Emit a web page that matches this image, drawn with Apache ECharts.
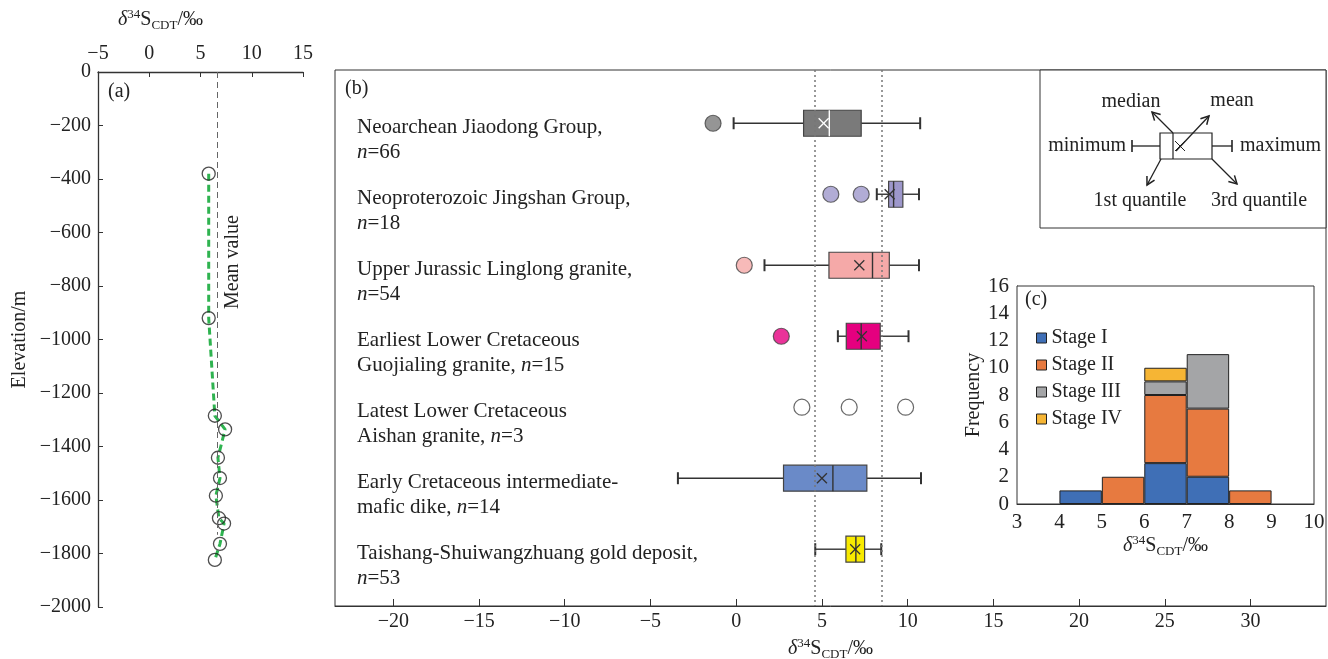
<!DOCTYPE html>
<html>
<head>
<meta charset="utf-8">
<script src="https://cdn.jsdelivr.net/npm/echarts@6/dist/echarts.min.js"></script>
<style>
html, body { margin: 0; padding: 0; background: #fff; }
#main { width: 1328px; height: 659px; }
</style>
</head>
<body>
<div id="main"></div>
<script>
// (a) sulfur isotope vs. elevation
var depthX = [5.8, 5.8, 6.4, 7.4, 6.7, 6.9, 6.5, 6.8, 7.3, 6.9, 6.4];
var depthY = [-380, -920, -1285, -1336, -1442, -1518, -1584, -1668, -1688, -1764, -1824];
var meanValue = 6.6;
var meanBottom = -1730;

// (b) box plots, one row per rock unit
var groupLine1 = ['Neoarchean Jiaodong Group,', 'Neoproterozoic Jingshan Group,', 'Upper Jurassic Linglong granite,',
    'Earliest Lower Cretaceous', 'Latest Lower Cretaceous', 'Early Cretaceous intermediate-', 'Taishang-Shuiwangzhuang gold deposit,'];
var groupLine2 = ['', '', '', 'Guojialing granite, ', 'Aishan granite, ', 'mafic dike, ', ''];
var groupN = ['66', '18', '54', '15', '3', '14', '53'];
var boxMin = [-0.15, 8.2, 1.65, 5.93, null, -3.4, 4.61];
var boxQ1 = [3.93, 8.89, 5.41, 6.42, null, 2.76, 6.4];
var boxMedian = [5.43, 9.18, 7.95, 7.29, null, 5.64, 6.98];
var boxQ3 = [7.29, 9.72, 8.93, 8.4, null, 7.62, 7.49];
var boxMax = [10.73, 10.66, 10.66, 10.05, null, 10.78, 8.46];
var boxMean = [5.1, 8.95, 7.18, 7.33, null, 5.0, 6.94];
var boxColors = ['#7a7a7a', '#9d97cb', '#f5a9a8', '#e5007f', '#ffffff', '#6a8ac8', '#f8ea00'];
var outlierX = [-1.35, 5.52, 7.29, 0.47, 2.63, 3.83, 6.59, 9.88];
var outlierRow = [0, 1, 1, 2, 3, 4, 4, 4];
var refLines = [4.6, 8.5];
var bTicks = [-20, -15, -10, -5, 0, 5, 10, 15, 20, 25, 30];

// (c) histogram, 1 permil bins from 3 to 10
var bins = ['3-4', '4-5', '5-6', '6-7', '7-8', '8-9', '9-10'];
var stageNames = ['Stage I', 'Stage II', 'Stage III', 'Stage IV'];
var stageCounts = [
    [0, 1, 0, 3, 2, 0, 0],
    [0, 0, 2, 5, 5, 1, 0],
    [0, 0, 0, 1, 4, 0, 0],
    [0, 0, 0, 1, 0, 0, 0]
];
var stageColors = ['#3f6fb6', '#e77a40', '#a4a5a7', '#f6b534'];

var FONT = '"Liberation Serif", "Times New Roman", serif';
var INK = '#222';

function minus(v) { return String(v).replace('-', '\u2212'); }

var isoRich = {
    d: { fontFamily: FONT, fontSize: 20, fontStyle: 'italic', color: INK, lineHeight: 24 },
    sup: { fontFamily: FONT, fontSize: 13, color: INK, verticalAlign: 'top', lineHeight: 24 },
    s: { fontFamily: FONT, fontSize: 20, color: INK, lineHeight: 24 },
    sub: { fontFamily: FONT, fontSize: 13, color: INK, verticalAlign: 'bottom', lineHeight: 20 }
};
var isoName = '{d|δ}{sup|34}{s|S}{sub|CDT}{s|/‰}';

var X_MIN = -23.4, X_MAX = 34.4;

function renderBox(params, api) {
    var i = params.dataIndex;
    var c = api.coord([X_MIN, i]);
    var children = [];
    var txt = '{t|' + groupLine1[i] + '}\n{t|' + groupLine2[i] + '}{i|n}{t|=' + groupN[i] + '}';
    children.push({
        type: 'text',
        x: c[0] + 22, y: c[1] - 8,
        style: {
            text: txt,
            verticalAlign: 'top',
            rich: {
                t: { fontFamily: FONT, fontSize: 21, fill: INK, lineHeight: 25 },
                i: { fontFamily: FONT, fontSize: 21, fontStyle: 'italic', fill: INK, lineHeight: 25 }
            }
        }
    });
    if (boxQ1[i] == null) return { type: 'group', children: children };
    var y = c[1];
    var h = 26, cap = 6;
    var xMin = api.coord([boxMin[i], i])[0];
    var xQ1 = api.coord([boxQ1[i], i])[0];
    var xMed = api.coord([boxMedian[i], i])[0];
    var xQ3 = api.coord([boxQ3[i], i])[0];
    var xMax = api.coord([boxMax[i], i])[0];
    var xMean = api.coord([boxMean[i], i])[0];
    var lineSt = { stroke: '#333', lineWidth: 1.4 };
    var inner = i === 0 ? '#ffffff' : '#333';
    children.push(
        { type: 'line', shape: { x1: xMin, y1: y, x2: xQ1, y2: y }, style: lineSt },
        { type: 'line', shape: { x1: xQ3, y1: y, x2: xMax, y2: y }, style: lineSt },
        { type: 'line', shape: { x1: xMin, y1: y - cap, x2: xMin, y2: y + cap }, style: { stroke: '#333', lineWidth: 2 } },
        { type: 'line', shape: { x1: xMax, y1: y - cap, x2: xMax, y2: y + cap }, style: { stroke: '#333', lineWidth: 2 } },
        { type: 'rect', shape: { x: xQ1, y: y - h / 2, width: xQ3 - xQ1, height: h }, style: { fill: boxColors[i], stroke: '#444', lineWidth: 1.2 } },
        { type: 'line', shape: { x1: xMed, y1: y - h / 2, x2: xMed, y2: y + h / 2 }, style: { stroke: inner, lineWidth: 1.4 } },
        { type: 'line', shape: { x1: xMean - 5, y1: y - 5, x2: xMean + 5, y2: y + 5 }, style: { stroke: inner, lineWidth: 1.3 } },
        { type: 'line', shape: { x1: xMean - 5, y1: y + 5, x2: xMean + 5, y2: y - 5 }, style: { stroke: inner, lineWidth: 1.3 } }
    );
    return { type: 'group', children: children };
}

// schematic box legend in the upper right of (b)
function arrow(x1, y1, x2, y2) {
    var a = Math.atan2(y2 - y1, x2 - x1), L = 9, s = 0.5;
    return [
        { type: 'line', shape: { x1: x1, y1: y1, x2: x2, y2: y2 }, style: { stroke: INK, lineWidth: 1.3 } },
        { type: 'polyline', shape: { points: [
            [x2 - L * Math.cos(a - s), y2 - L * Math.sin(a - s)], [x2, y2],
            [x2 - L * Math.cos(a + s), y2 - L * Math.sin(a + s)]] }, style: { stroke: INK, fill: null, lineWidth: 1.5 } }
    ];
}
function gtext(x, y, t, align) {
    return { type: 'text', x: x, y: y, style: { text: t, font: '20px ' + FONT, fill: INK, align: align || 'center', verticalAlign: 'middle' } };
}
var keyEls = [
    { type: 'rect', shape: { x: 1040, y: 70, width: 286, height: 158 }, style: { fill: '#fff', stroke: '#333', lineWidth: 1 } },
    { type: 'line', shape: { x1: 1132, y1: 146, x2: 1160, y2: 146 }, style: { stroke: INK, lineWidth: 1.3 } },
    { type: 'line', shape: { x1: 1212, y1: 146, x2: 1232, y2: 146 }, style: { stroke: INK, lineWidth: 1.3 } },
    { type: 'line', shape: { x1: 1132, y1: 140, x2: 1132, y2: 152 }, style: { stroke: INK, lineWidth: 1.6 } },
    { type: 'line', shape: { x1: 1232, y1: 140, x2: 1232, y2: 152 }, style: { stroke: INK, lineWidth: 1.6 } },
    { type: 'rect', shape: { x: 1160, y: 133, width: 52, height: 26 }, style: { fill: '#fff', stroke: INK, lineWidth: 1.2 } },
    { type: 'line', shape: { x1: 1173, y1: 133, x2: 1173, y2: 159 }, style: { stroke: INK, lineWidth: 1.2 } },
    { type: 'line', shape: { x1: 1175, y1: 141, x2: 1185, y2: 151 }, style: { stroke: INK, lineWidth: 1 } },
    { type: 'line', shape: { x1: 1175, y1: 151, x2: 1185, y2: 141 }, style: { stroke: INK, lineWidth: 1 } },
    gtext(1126, 146, 'minimum', 'right'),
    gtext(1240, 146, 'maximum', 'left'),
    gtext(1131, 102, 'median'),
    gtext(1232, 101, 'mean'),
    gtext(1140, 201, '1st quantile'),
    gtext(1259, 201, '3rd quantile')
].concat(arrow(1173, 133, 1152, 112), arrow(1176, 151, 1209, 116), arrow(1161, 159, 1147, 185), arrow(1212, 159, 1237, 184));

// stacked on a hidden category axis (one category per bin), labelled by a value axis 3..10
var histSeries = stageNames.map(function (name, k) {
    return {
        name: name, type: 'bar', stack: 'stage', xAxisIndex: 2, yAxisIndex: 2,
        barWidth: '100%', barCategoryGap: '0%', z: 10,
        data: stageCounts[k].map(function (v) { return v > 0 ? v : null; }),
        itemStyle: { color: stageColors[k], borderColor: '#222', borderWidth: 1 }
    };
});

var depthData = depthX.map(function (x, i) { return [x, depthY[i]]; });
var boxData = groupN.map(function (n, i) { return [i, boxMin[i], boxMax[i]]; });
var outlierData = outlierX.map(function (x, i) { return [x, outlierRow[i]]; });

var chart = echarts.init(document.getElementById('main'));
var option = {
    backgroundColor: '#fff',
    animation: false,
    textStyle: { fontFamily: FONT, color: INK },
    grid: [
        { left: 98, top: 72, width: 205, height: 535, outerBoundsMode: 'none' },
        { left: 335, top: 70, width: 991, height: 536, outerBoundsMode: 'none', show: true, borderColor: '#333', borderWidth: 1 },
        { left: 1017, top: 286, width: 297, height: 218, outerBoundsMode: 'none', show: true, borderColor: '#333', borderWidth: 1, backgroundColor: '#fff', z: 5 }
    ],
    legend: {
        data: stageNames, orient: 'vertical', left: 1031, top: 323,
        itemWidth: 10, itemHeight: 10, itemGap: 7, selectedMode: false, icon: 'rect', z: 12,
        itemStyle: { borderColor: '#222', borderWidth: 1 },
        textStyle: { fontFamily: FONT, fontSize: 20, color: INK, lineHeight: 20 }
    },
    xAxis: [
        {
            gridIndex: 0, type: 'value', position: 'top', min: -5, max: 15, interval: 5,
            axisLine: { onZero: false, lineStyle: { color: '#333', width: 1.3 } },
            axisTick: { inside: true, length: 5, lineStyle: { color: '#333' } },
            axisLabel: { fontFamily: FONT, fontSize: 20, color: INK, margin: 8, formatter: minus },
            splitLine: { show: false }
        },
        {
            gridIndex: 1, type: 'value', min: X_MIN, max: X_MAX,
            axisLine: { onZero: false, lineStyle: { color: '#333' } },
            axisTick: { inside: true, length: 7, customValues: bTicks, lineStyle: { color: '#333' } },
            axisLabel: { fontFamily: FONT, fontSize: 20, color: INK, margin: 6, customValues: bTicks, formatter: minus },
            splitLine: { show: false },
            name: isoName, nameLocation: 'middle', nameGap: 28, nameTextStyle: { rich: isoRich }
        },
        {
            gridIndex: 2, type: 'category', data: bins, boundaryGap: true,
            axisLine: { show: false }, axisTick: { show: false }, axisLabel: { show: false }
        },
        {
            gridIndex: 2, type: 'value', min: 3, max: 10, interval: 1, position: 'bottom',
            axisLine: { onZero: false, lineStyle: { color: '#333' } },
            axisTick: { show: false },
            axisLabel: { fontFamily: FONT, fontSize: 21, color: INK, margin: 8 },
            splitLine: { show: false },
            name: isoName, nameLocation: 'middle', nameGap: 26, nameTextStyle: { rich: isoRich }
        }
    ],
    yAxis: [
        {
            gridIndex: 0, type: 'value', min: -2000, max: 0, interval: 200,
            axisLine: { show: true, onZero: false, lineStyle: { color: '#333', width: 1.3 } },
            axisTick: { show: true, inside: true, length: 5, lineStyle: { color: '#333' } },
            axisLabel: { fontFamily: FONT, fontSize: 20, color: INK, margin: 7, formatter: minus },
            splitLine: { show: false },
            name: 'Elevation/m', nameLocation: 'middle', nameGap: 68,
            nameTextStyle: { fontFamily: FONT, fontSize: 20, color: INK }
        },
        {
            gridIndex: 1, type: 'value', inverse: true, min: -0.75, max: 6.8, show: false
        },
        {
            gridIndex: 2, type: 'value', min: 0, max: 16, interval: 2,
            axisLine: { show: true, lineStyle: { color: '#333' } },
            axisTick: { show: false },
            axisLabel: { fontFamily: FONT, fontSize: 21, color: INK, margin: 8 },
            splitLine: { show: false },
            name: 'Frequency', nameLocation: 'middle', nameGap: 30,
            nameTextStyle: { fontFamily: FONT, fontSize: 20, color: INK }
        }
    ],
    graphic: [
        { type: 'text', x: 118, y: 8, style: { text: isoName, rich: {
            d: { font: 'italic 20px ' + FONT, fill: INK, lineHeight: 24 },
            sup: { font: '13px ' + FONT, fill: INK, verticalAlign: 'top', lineHeight: 24 },
            s: { font: '20px ' + FONT, fill: INK, lineHeight: 24 },
            sub: { font: '13px ' + FONT, fill: INK, verticalAlign: 'bottom', lineHeight: 20 } } } },
        { type: 'text', x: 108, y: 92, style: { text: '(a)', font: '20px ' + FONT, fill: INK, verticalAlign: 'middle' } },
        { type: 'text', x: 233, y: 262, rotation: Math.PI / 2, style: { text: 'Mean value', font: '20px ' + FONT, fill: INK, align: 'center', verticalAlign: 'middle' } },
        { type: 'text', x: 345, y: 89, style: { text: '(b)', font: '20px ' + FONT, fill: INK, verticalAlign: 'middle' } },
        { type: 'text', x: 1025, y: 300, z: 20, style: { text: '(c)', font: '20px ' + FONT, fill: INK, verticalAlign: 'middle' } },
        { type: 'group', children: keyEls }
    ],
    series: [
        {
            type: 'line', xAxisIndex: 0, yAxisIndex: 0, data: depthData, showSymbol: false,
            lineStyle: { color: '#2fb350', width: 3, type: [7, 4] },
            markLine: {
                silent: true, symbol: 'none', label: { show: false },
                lineStyle: { color: '#666', width: 1, type: [6, 4] },
                data: [[{ coord: [meanValue, 0] }, { coord: [meanValue, meanBottom] }]]
            }
        },
        {
            type: 'scatter', xAxisIndex: 0, yAxisIndex: 0, data: depthData, symbolSize: 13, z: 4,
            itemStyle: { color: 'rgba(0,0,0,0)', borderColor: '#222', borderWidth: 1.3 }
        },
        {
            type: 'custom', xAxisIndex: 1, yAxisIndex: 1, data: boxData, renderItem: renderBox,
            encode: { x: [1, 2], y: 0 }, clip: false, z: 3
        },
        {
            type: 'scatter', xAxisIndex: 1, yAxisIndex: 1, data: outlierData, symbolSize: 16, z: 4,
            itemStyle: {
                color: function (p) { return boxColors[p.data[1]]; },
                borderColor: '#444', borderWidth: 1.2
            },
            markLine: {
                silent: true, symbol: 'none', label: { show: false },
                lineStyle: { color: '#777', width: 1.5, type: [2, 3] },
                data: refLines.map(function (v) { return { xAxis: v }; })
            }
        }
    ].concat(histSeries)
};
chart.setOption(option);
window.addEventListener('resize', chart.resize);
</script>
</body>
</html>
